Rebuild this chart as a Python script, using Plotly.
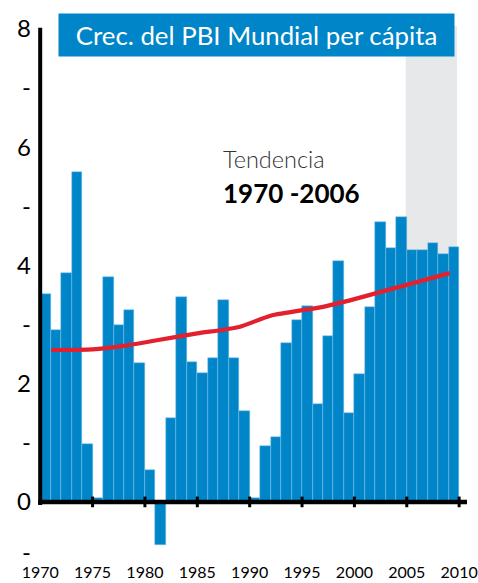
import plotly.graph_objects as go

# ---- data ----
years = list(range(1970, 2010))
growth = [3.52, 2.90, 3.87, 5.58, 0.98, 0.07, 3.81, 3.00, 3.24, 2.35,
          0.54, -0.73, 1.42, 3.46, 2.37, 2.18, 2.43, 3.41, 2.43, 1.53,
          0.07, 0.95, 1.09, 2.68, 3.08, 3.31, 1.65, 2.80, 4.08, 1.51,
          2.16, 3.29, 4.74, 4.29, 4.82, 4.26, 4.26, 4.38, 4.20, 4.31]

trend_years = [1971.05, 1975, 1978, 1981, 1985, 1989, 1992, 1997, 2000, 2009.1]
trend_vals = [2.57, 2.58, 2.64, 2.73, 2.85, 2.96, 3.15, 3.30, 3.43, 3.87]

x_tick_years = [1970, 1975, 1980, 1985, 1990, 1995, 2000, 2005, 2010]
x_tick_text = [str(y) for y in x_tick_years]
y_tick_vals = [8, 7, 6, 5, 4, 3, 2, 1, 0, -0.86]
y_tick_text = ["8", "-", "6", "-", "4", "-", "2", "-", "0", "-"]

proj_start, proj_end = 2005, 2010
title_text = "Crec. del PBI Mundial per cápita"
trend_label = "Tendencia"
trend_period = "1970 -2006"

BLUE = "#0085c8"
RED = "#e3202d"
FONT = "Lato"

fig = go.Figure()

fig.add_trace(go.Bar(
    x=[y + 0.5 for y in years], y=growth, width=1.0,
    marker=dict(color=BLUE, line=dict(color="#7cc0ea", width=0.5)),
    hoverinfo="skip", showlegend=False,
))

fig.add_trace(go.Scatter(
    x=trend_years, y=trend_vals, mode="lines",
    line=dict(color=RED, width=4.2, shape="spline", smoothing=0.6),
    hoverinfo="skip", showlegend=False,
))

shapes = [
    # projection band
    dict(type="rect", xref="x", yref="y", x0=proj_start - 0.1, x1=proj_end - 0.2,
         y0=0, y1=8.1, fillcolor="#e7e8ea", line=dict(width=0), layer="below"),
    # vertical axis
    dict(type="line", xref="x", yref="y", x0=1970, x1=1970, y0=-0.05, y1=8.02,
         line=dict(color="black", width=4), layer="above"),
    # zero line
    dict(type="line", xref="x", yref="y", x0=1969.82, x1=2010.75, y0=0, y1=0,
         line=dict(color="black", width=4.5), layer="above"),
]
for ty in x_tick_years[1:]:
    shapes.append(dict(type="line", xref="x", yref="y", x0=ty, x1=ty,
                       y0=-0.09, y1=0.09,
                       line=dict(color="black", width=3), layer="above"))

annotations = [
    dict(text=title_text, xref="paper", yref="paper", x=0.5114, y=0.9836,
         xanchor="center", yanchor="middle", showarrow=False,
         width=395, height=42, borderpad=0, bgcolor=BLUE,
         font=dict(family=FONT, size=25.8, color="white")),
    dict(text=trend_label, xref="paper", yref="paper", x=0.429, y=0.753,
         xanchor="left", yanchor="middle", showarrow=False,
         font=dict(family=FONT, size=23.5, color="#333333", weight=300)),
    dict(text=trend_period, xref="paper", yref="paper", x=0.429, y=0.6895,
         xanchor="left", yanchor="middle", showarrow=False,
         font=dict(family=FONT, size=26, color="black", weight="bold")),
]

fig.update_layout(
    width=478, height=583,
    margin=dict(l=36, r=11, t=26, b=19),
    paper_bgcolor="white", plot_bgcolor="white",
    bargap=0,
    shapes=shapes, annotations=annotations,
    xaxis=dict(range=[1969.6, 2010.75], tickvals=x_tick_years, ticktext=x_tick_text,
               showgrid=False, zeroline=False, showline=False, ticks="",
               tickfont=dict(family=FONT, size=16, color="black"),
               ticklabelstandoff=-3, ticklabeloverflow="allow",
               automargin=False, fixedrange=True),
    yaxis=dict(range=[-1.05, 8.05], tickvals=y_tick_vals, ticktext=y_tick_text,
               showgrid=False, zeroline=False, showline=False, ticks="",
               tickfont=dict(family=FONT, size=24, color="black"),
               ticklabelstandoff=4, automargin=False, fixedrange=True),
)

fig.write_html(
    "out.html",
    config={"displayModeBar": False},
    post_script="document.body.style.margin='0';"
                "document.body.style.overflow='hidden';"
                "document.documentElement.style.overflow='hidden';",
)
